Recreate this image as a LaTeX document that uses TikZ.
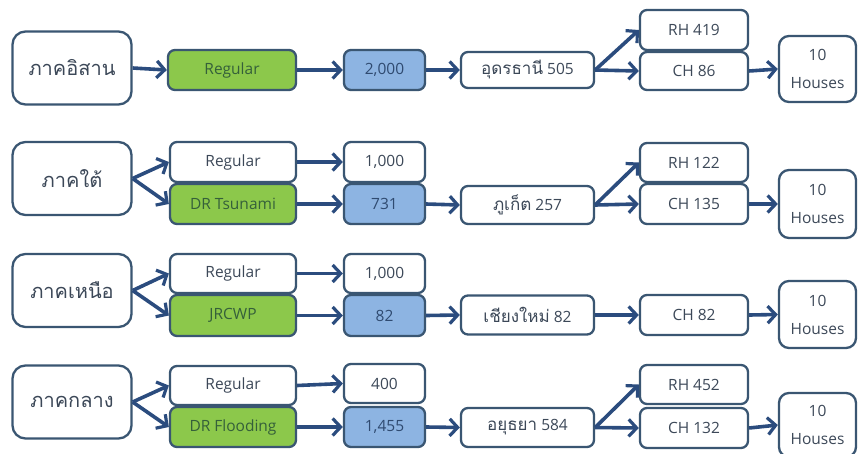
\documentclass[tikz,border=0pt]{standalone}
\usepackage{fontspec}
\setmainfont{Open Sans}
\newfontfamily\thaifont[Script=Thai]{Loma}
\usetikzlibrary{arrows.meta}
\definecolor{edgec}{HTML}{3A5672}
\definecolor{arrowc}{HTML}{2B4C7E}
\definecolor{greenc}{HTML}{8CC84B}
\definecolor{bluec}{HTML}{8DB4E2}
\definecolor{txtc}{HTML}{3C4858}
\definecolor{gtxt}{HTML}{35603A}
\definecolor{btxt}{HTML}{2F4A70}
\newcommand{\thw}[1]{{\thaifont\fontsize{17}{20}\selectfont #1}}
\tikzset{
  box/.style={draw=edgec, line width=2.3pt, rounded corners=7pt, fill=white,
    text=txtc, inner sep=0pt, align=center, font=\fontsize{15.5}{18}\selectfont},
  regionbox/.style={box, rounded corners=13pt, minimum width=119pt, minimum height=73pt,
    font=\thaifont\fontsize{20}{24}\selectfont},
  citybox/.style={box, minimum width=133pt},
  greenbox/.style={box, fill=greenc, text=gtxt},
  bluebox/.style={box, fill=bluec, text=btxt},
  housebox/.style={box, rounded corners=10pt, minimum width=77pt,
    font=\fontsize{15.5}{28}\selectfont},
  flow/.style={draw=arrowc, line width=3.6pt,
    -{Straight Barb[length=8pt,width=17pt,line width=3.2pt]}},
}
\begin{document}
\begin{tikzpicture}[x=1pt,y=-1pt]
\useasboundingbox (0,0) rectangle (860,453);

% ---- row 1: North-east ----
\node[regionbox] (r1) at (72,68) {ภาคอิสาน};
\node[greenbox, minimum width=128pt, minimum height=40pt] (p1) at (232,70) {Regular};
\node[bluebox, minimum width=81pt, minimum height=40pt] (n1) at (384.5,70) {2,000};
\node[citybox, minimum height=36pt] (c1) at (527.5,70) {\thw{อุดรธานี} 505};
\node[box, minimum width=108pt, minimum height=40pt] (rh1) at (694,30) {RH 419};
\node[box, minimum width=108pt, minimum height=38pt] (ch1) at (694,71) {CH 86};
\node[housebox, minimum height=66pt] (h1) at (817.5,69) {10\\Houses};
\draw[flow] (r1.east) -- (p1.west);
\draw[flow] (p1.east) -- (n1.west);
\draw[flow] (n1.east) -- (c1.west);
\draw[flow] (c1.east) -- (rh1.west);
\draw[flow] (c1.east) -- (ch1.west);
\draw[flow] (ch1.east) -- (h1.west);

% ---- row 2: South ----
\node[regionbox] (r2) at (72,178.5) {ภาคใต้};
\node[box, minimum width=126pt, minimum height=40pt] (p2) at (233,162) {Regular};
\node[greenbox, minimum width=126pt, minimum height=40pt] (q2) at (233,204) {DR Tsunami};
\node[box, minimum width=81pt, minimum height=40pt] (m2) at (384.5,162) {1,000};
\node[bluebox, minimum width=81pt, minimum height=40pt] (n2) at (384.5,204) {731};
\node[citybox, minimum height=38pt] (c2) at (527.5,205) {\thw{ภูเก็ต} 257};
\node[box, minimum width=108pt, minimum height=39pt] (rh2) at (694,162.5) {RH 122};
\node[box, minimum width=108pt, minimum height=40pt] (ch2) at (694,204) {CH 135};
\node[housebox, minimum height=68pt] (h2) at (817.5,204) {10\\Houses};
\draw[flow] (r2.east) -- (p2.west);
\draw[flow] (r2.east) -- (q2.west);
\draw[flow] (p2.east) -- (m2.west);
\draw[flow] (q2.east) -- (n2.west);
\draw[flow] (n2.east) -- (c2.west);
\draw[flow] (c2.east) -- (rh2.west);
\draw[flow] (c2.east) -- (ch2.west);
\draw[flow] (ch2.east) -- (h2.west);

% ---- row 3: North ----
\node[regionbox] (r3) at (72,290.5) {ภาคเหนือ};
\node[box, minimum width=126pt, minimum height=39pt] (p3) at (233,273.5) {Regular};
\node[greenbox, minimum width=126pt, minimum height=41pt] (q3) at (233,315.5) {JRCWP};
\node[box, minimum width=81pt, minimum height=39pt] (m3) at (384.5,273.5) {1,000};
\node[bluebox, minimum width=81pt, minimum height=41pt] (n3) at (384.5,315.5) {82};
\node[citybox, minimum height=39pt] (c3) at (527.5,315) {\thw{เชียงใหม่} 82};
\node[box, minimum width=108pt, minimum height=40pt] (ch3) at (694,315) {CH 82};
\node[housebox, minimum height=67pt] (h3) at (817.5,314.5) {10\\Houses};
\draw[flow] (r3.east) -- (p3.west);
\draw[flow] (r3.east) -- (q3.west);
\draw[flow] (p3.east) -- (m3.west);
\draw[flow] (q3.east) -- (n3.west);
\draw[flow] (n3.east) -- (c3.west);
\draw[flow] (c3.east) -- (ch3.west);
\draw[flow] (ch3.east) -- (h3.west);

% ---- row 4: Central ----
\node[regionbox] (r4) at (72,402) {ภาคกลาง};
\node[box, minimum width=126pt, minimum height=39pt] (p4) at (233,385.5) {Regular};
\node[greenbox, minimum width=126pt, minimum height=40pt] (q4) at (233,427) {DR Flooding};
\node[box, minimum width=81pt, minimum height=39pt] (m4) at (384.5,383.5) {400};
\node[bluebox, minimum width=81pt, minimum height=40pt] (n4) at (384.5,427) {1,455};
\node[citybox, minimum height=39pt] (c4) at (527.5,427.5) {\thw{อยุธยา} 584};
\node[box, minimum width=108pt, minimum height=39pt] (rh4) at (694,384.5) {RH 452};
\node[box, minimum width=108pt, minimum height=40pt] (ch4) at (694,428) {CH 132};
\node[housebox, minimum height=64pt] (h4) at (817.5,425) {10\\Houses};
\draw[flow] (r4.east) -- (p4.west);
\draw[flow] (r4.east) -- (q4.west);
\draw[flow] (p4.east) -- (m4.west);
\draw[flow] (q4.east) -- (n4.west);
\draw[flow] (n4.east) -- (c4.west);
\draw[flow] (c4.east) -- (rh4.west);
\draw[flow] (c4.east) -- (ch4.west);
\draw[flow] (ch4.east) -- (h4.west);
\end{tikzpicture}
\end{document}
